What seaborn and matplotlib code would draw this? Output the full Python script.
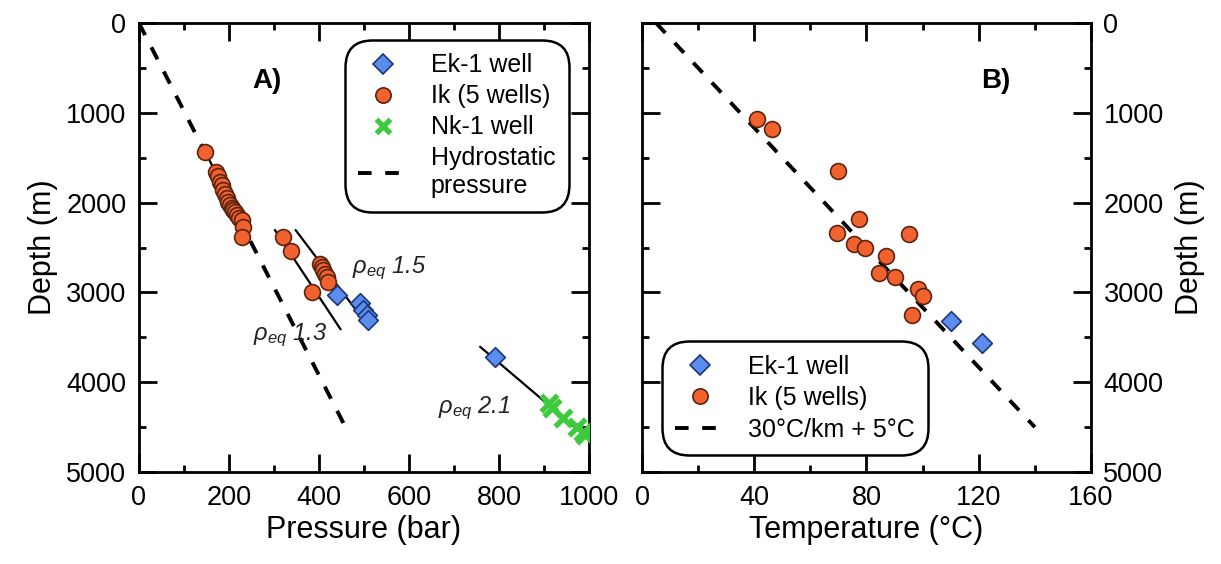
import numpy as np
import pandas as pd
import matplotlib
matplotlib.use("Agg")
import matplotlib.pyplot as plt
import seaborn as sns
from matplotlib.lines import Line2D

# ---------------- data ----------------
# Panel A: pressure (bar) vs depth (m)
ik_P = [147, 172, 176, 180, 184, 187, 191, 195, 198, 202, 206, 210, 214, 217, 222, 228, 232, 230,
        321, 337, 384, 403, 406, 409, 413, 417, 421]
ik_D = [1433, 1660, 1700, 1767, 1800, 1860, 1900, 1952, 1990, 2027, 2060, 2082, 2110, 2138, 2170, 2194, 2268, 2380,
        2380, 2535, 2992, 2680, 2720, 2750, 2790, 2825, 2880]
ek_P = [439, 491, 498, 506, 510, 791]
ek_D = [3029, 3121, 3196, 3252, 3307, 3716]
nk_P = [910, 917, 943, 973, 987, 990]
nk_D = [4235, 4291, 4402, 4495, 4551, 4588]
hydro_P = [0, 464]
hydro_D = [0, 4550]
rho13_P = [302, 448]
rho13_D = [2305, 3411]
rho15_P = [348, 513]
rho15_D = [2305, 3400]
rho21_P = [758, 1002]
rho21_D = [3605, 4644]
ik_line_P = [147, 243]
ik_line_D = [1433, 2380]

# Panel B: temperature (°C) vs depth (m)
ikT_T = [40.9, 46.2, 70.0, 77.4, 69.4, 95.3, 75.7, 79.5, 87.1, 84.6, 90.3, 98.5, 100.3, 96.1]
ikT_D = [1073, 1180, 1645, 2186, 2342, 2353, 2461, 2509, 2595, 2780, 2832, 2966, 3040, 3252]
ekT_T = [110.0, 121.0]
ekT_D = [3315, 3567]
grad_T = [5, 140]
grad_D = [0, 4500]

labels_A = ["Ek-1 well", "Ik (5 wells)", "Nk-1 well", "Hydrostatic\npressure"]
labels_B = ["Ek-1 well", "Ik (5 wells)", "30°C/km + 5°C"]

# ---------------- style ----------------
sns.set_theme(style="ticks")
plt.rcParams["font.family"] = ["Liberation Sans", "DejaVu Sans"]
plt.rcParams["mathtext.fontset"] = "custom"
plt.rcParams["mathtext.it"] = "Liberation Sans:italic"
plt.rcParams["mathtext.rm"] = "Liberation Sans:italic"
plt.rcParams["text.color"] = "black"
plt.rcParams["axes.labelcolor"] = "black"
plt.rcParams["xtick.color"] = "black"
plt.rcParams["ytick.color"] = "black"

ORANGE = "#F2622E"
ORANGE_E = "#5A2410"
BLUE = "#5B8DEE"
BLUE_E = "#1E3577"
GREEN = "#3DCB3D"

fig = plt.figure(figsize=(12.21, 5.64), dpi=100)
axA = fig.add_axes([0.1138, 0.1631, 0.3686, 0.7961])
axB = fig.add_axes([0.5258, 0.1631, 0.3677, 0.7961])

FS_TICK = 19.5
FS_LAB = 22
FS_LEG = 18

def style_axes(ax):
    for s in ax.spines.values():
        s.set_linewidth(2.0)
        s.set_color("black")
        s.set_visible(True)
    ax.tick_params(which="both", direction="in", top=True, bottom=True, left=True, right=True,
                   width=2.0, color="black", labelcolor="black", labelsize=FS_TICK, pad=9)
    ax.tick_params(which="major", length=13)
    ax.tick_params(which="minor", length=5)

# ---------- Panel A ----------
sns.lineplot(x=hydro_P, y=hydro_D, ax=axA, color="black", lw=2.8, linestyle=(0, (3.5, 3.5)),
             sort=False, estimator=None)
for P, D in [(rho13_P, rho13_D), (rho15_P, rho15_D), (rho21_P, rho21_D), (ik_line_P, ik_line_D)]:
    sns.lineplot(x=P, y=D, ax=axA, color="black", lw=1.6, sort=False, estimator=None)
sns.scatterplot(x=ik_P, y=ik_D, ax=axA, marker="o", s=130, color=ORANGE, edgecolor=ORANGE_E,
                linewidth=1.2, zorder=5)
sns.scatterplot(x=ek_P, y=ek_D, ax=axA, marker="D", s=100, color=BLUE, edgecolor=BLUE_E,
                linewidth=1.2, zorder=6)
sns.scatterplot(x=nk_P, y=nk_D, ax=axA, marker="x", s=140, color=GREEN, linewidth=3.8, zorder=6)

axA.set_xlim(0, 1000)
axA.set_ylim(5000, 0)
axA.set_xticks([0, 200, 400, 600, 800, 1000])
axA.set_xticks(np.arange(100, 1000, 200), minor=True)
axA.set_yticks([0, 1000, 2000, 3000, 4000, 5000])
axA.set_yticks(np.arange(500, 5000, 1000), minor=True)
style_axes(axA)
axA.set_xlabel("Pressure (bar)", fontsize=FS_LAB, labelpad=3)
axA.set_ylabel("Depth (m)", fontsize=FS_LAB, labelpad=6)

axA.text(285, 725, "A)", fontsize=20, fontweight="bold", ha="center", va="baseline")
rho_kw = dict(fontsize=17, style="italic", ha="left", va="baseline", color="#222222")
axA.text(473, 2790, r"$\rho_{eq}$ 1.5", **rho_kw)
axA.text(254, 3530, r"$\rho_{eq}$ 1.3", **rho_kw)
axA.text(665, 4343, r"$\rho_{eq}$ 2.1", **rho_kw)

hA = [
    Line2D([], [], marker="D", ls="none", ms=10, mfc=BLUE, mec=BLUE_E, mew=1.2),
    Line2D([], [], marker="o", ls="none", ms=11, mfc=ORANGE, mec=ORANGE_E, mew=1.2),
    Line2D([], [], marker="x", ls="none", ms=10, mec=GREEN, mew=3.8),
    Line2D([], [], color="black", lw=2.8, ls=(0, (3.5, 3.5))),
]
legA = axA.legend(hA, labels_A, loc="upper left", bbox_to_anchor=(0.468, 0.952), fontsize=FS_LEG,
                  frameon=True, fancybox=True, handlelength=2.0, handletextpad=0.9,
                  labelspacing=0.28, borderpad=0.35, borderaxespad=0)
fr = legA.get_frame()
fr.set_edgecolor("black"); fr.set_linewidth(1.8); fr.set_alpha(1)
fr.set_boxstyle("round,pad=0.2,rounding_size=1.1")

# ---------- Panel B ----------
sns.lineplot(x=grad_T, y=grad_D, ax=axB, color="black", lw=2.8, linestyle=(0, (3.5, 3.5)),
             sort=False, estimator=None)
sns.scatterplot(x=ikT_T, y=ikT_D, ax=axB, marker="o", s=130, color=ORANGE, edgecolor=ORANGE_E,
                linewidth=1.2, zorder=5)
sns.scatterplot(x=ekT_T, y=ekT_D, ax=axB, marker="D", s=100, color=BLUE, edgecolor=BLUE_E,
                linewidth=1.2, zorder=6)
axB.set_xlim(0, 160)
axB.set_ylim(5000, 0)
axB.set_xticks([0, 40, 80, 120, 160])
axB.set_xticks(np.arange(20, 160, 40), minor=True)
axB.set_yticks([0, 1000, 2000, 3000, 4000, 5000])
axB.set_yticks(np.arange(500, 5000, 1000), minor=True)
style_axes(axB)
axB.tick_params(labelleft=False, labelright=True)
axB.yaxis.set_label_position("right")
axB.set_xlabel("Temperature (°C)", fontsize=FS_LAB, labelpad=3)
axB.set_ylabel("Depth (m)", fontsize=FS_LAB, labelpad=8)
axB.text(126, 725, "B)", fontsize=20, fontweight="bold", ha="center", va="baseline")

hB = [
    Line2D([], [], marker="D", ls="none", ms=10, mfc=BLUE, mec=BLUE_E, mew=1.2),
    Line2D([], [], marker="o", ls="none", ms=11, mfc=ORANGE, mec=ORANGE_E, mew=1.2),
    Line2D([], [], color="black", lw=2.8, ls=(0, (3.5, 3.5))),
]
legB = axB.legend(hB, labels_B, loc="lower left", bbox_to_anchor=(0.055, 0.048), fontsize=FS_LEG,
                  frameon=True, fancybox=True, handlelength=2.0, handletextpad=0.9,
                  labelspacing=0.3, borderpad=0.35, borderaxespad=0)
fr = legB.get_frame()
fr.set_edgecolor("black"); fr.set_linewidth(1.8); fr.set_alpha(1)
fr.set_boxstyle("round,pad=0.2,rounding_size=1.1")

fig.savefig("out.png", dpi=100, facecolor="white")
